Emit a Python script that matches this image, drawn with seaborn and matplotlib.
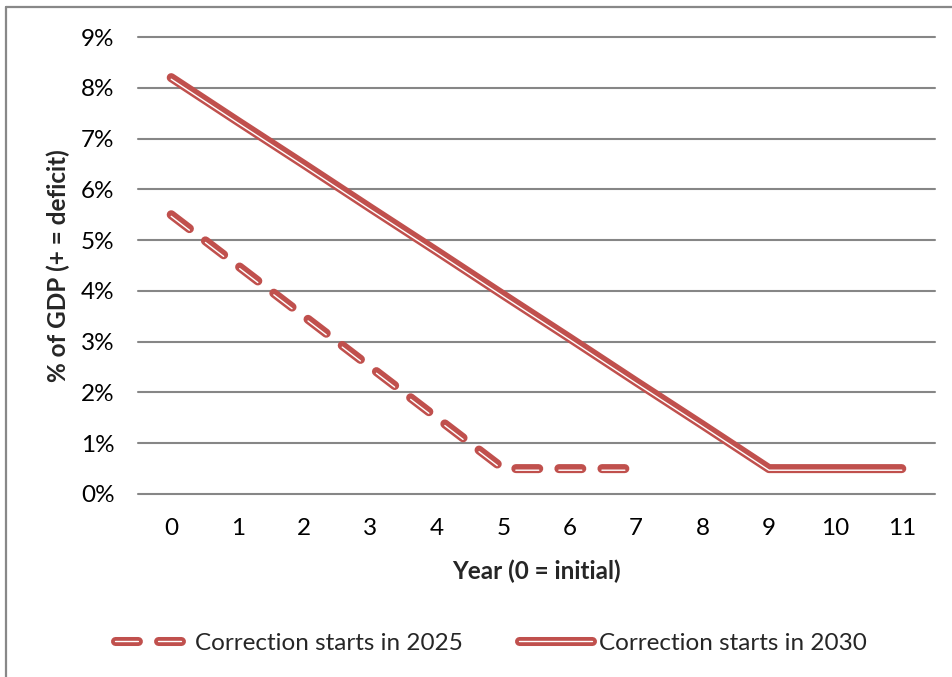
import matplotlib
matplotlib.use("Agg")
import matplotlib.pyplot as plt
import matplotlib.transforms as mtransforms
from matplotlib.lines import Line2D
from matplotlib.legend_handler import HandlerTuple
import seaborn as sns
import numpy as np
import pandas as pd

# data
years = list(range(12))
deficit_2025 = [5.5, 4.5, 3.5, 2.5, 1.5, 0.5, 0.5, 0.5]
deficit_2030 = [8.2, 7.34, 6.49, 5.63, 4.78, 3.92, 3.07, 2.21, 1.36, 0.5, 0.5, 0.5]
labels = ["Correction starts in 2025", "Correction starts in 2030"]
yticks = list(range(10))

sns.set_theme(style="white")
plt.rcParams["font.family"] = ["Lato", "DejaVu Sans"]
plt.rcParams["lines.scale_dashes"] = False

red = "#C0504D"
grid = "#868686"
fs = 17.5

fig = plt.figure(figsize=(9.52, 6.77), dpi=100)
ax = fig.add_axes([138 / 952, 1 - 494 / 677, (935 - 138) / 952, (494 - 37) / 677])

df25 = pd.DataFrame({"year": years[:len(deficit_2025)], "val": deficit_2025})
df30 = pd.DataFrame({"year": years, "val": deficit_2030})

dash = (0, (16.5, 14.5))
lw_out, lw_in = 6.5, 1.0
shift = mtransforms.offset_copy(ax.transData, fig=fig, x=0, y=-1.6, units="dots")

sns.lineplot(data=df25, x="year", y="val", ax=ax, color=red, linewidth=lw_out,
             linestyle=dash, dash_capstyle="round", solid_capstyle="round", zorder=3)
sns.lineplot(data=df30, x="year", y="val", ax=ax, color=red, linewidth=lw_out,
             solid_capstyle="round", zorder=3)
# thin white stroke of the Excel double line
for d, ls in [(df25, dash), (df30, "-")]:
    ln, = ax.plot(d["year"], d["val"], color="white", linewidth=lw_in, linestyle=ls,
                  dash_capstyle="round", solid_capstyle="round", zorder=4)
    ln.set_transform(shift)

ax.set_xlim(-0.5, 11.5)
ax.set_ylim(0, 9)
ax.set_xticks(years)
ax.set_yticks(yticks)
ax.set_yticklabels([f"{t}%" for t in yticks])
for t in yticks:
    ax.axhline(t, color=grid, lw=1.5, zorder=1, clip_on=False)
for s in ax.spines.values():
    s.set_visible(False)
ax.tick_params(axis="both", labelsize=fs, colors="black", length=0)
ax.tick_params(axis="y", pad=17)
ax.tick_params(axis="x", pad=17)
ax.set_xlabel("Year (0 = initial)", fontsize=fs, fontweight="bold", labelpad=15)
ax.set_ylabel("% of GDP (+ = deficit)", fontsize=fs, fontweight="bold", labelpad=8)

# legend with double-line handles
h1 = (Line2D([], [], color=red, lw=lw_out, linestyle=dash, dash_capstyle="round"),
      Line2D([], [], color="white", lw=lw_in, linestyle=dash, dash_capstyle="round"))
h2 = (Line2D([], [], color=red, lw=lw_out, solid_capstyle="round"),
      Line2D([], [], color="white", lw=lw_in, solid_capstyle="round"))
fig.legend([h1, h2], labels, handler_map={tuple: HandlerTuple(ndivide=1)},
           loc="center", bbox_to_anchor=(0.516, 1 - 643 / 677), ncol=2, frameon=False,
           fontsize=fs, handlelength=3.0, handletextpad=0.3, columnspacing=2.3)

# outer frame (top and left edges visible)
fig.add_artist(Line2D([6 / 952, 1], [1 - 7 / 677, 1 - 7 / 677], transform=fig.transFigure,
                      color="#888888", lw=1.6))
fig.add_artist(Line2D([6 / 952, 6 / 952], [0, 1 - 7 / 677], transform=fig.transFigure,
                      color="#888888", lw=1.6))

fig.savefig("out.png", dpi=100)
